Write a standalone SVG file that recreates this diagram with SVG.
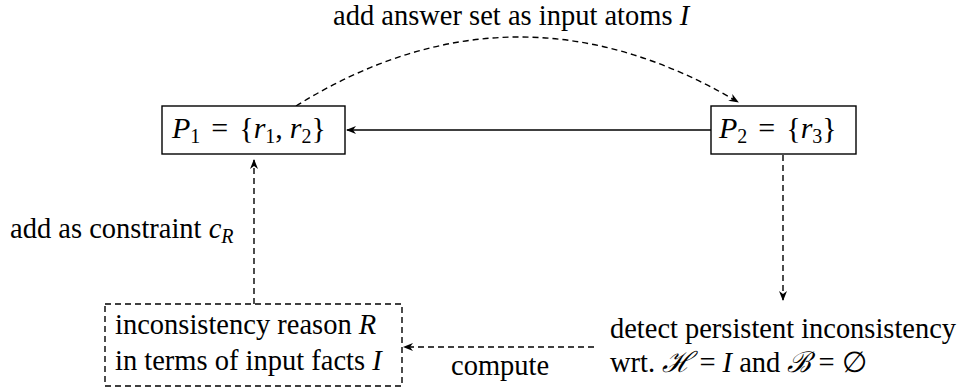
<svg xmlns="http://www.w3.org/2000/svg" width="961" height="389" viewBox="0 0 961 389">
<style>
text{font-family:"Liberation Serif","Times New Roman",serif;font-size:28.5px;fill:#000}
.m{font-size:30px}
.i{font-style:italic}
.s{font-size:20px}
.box{fill:#fff;stroke:#000;stroke-width:1.4}
.dbox{fill:none;stroke:#000;stroke-width:1.4;stroke-dasharray:6 4}
.c{fill:none;stroke:#000;stroke-width:1.4}
.d{stroke-dasharray:6 4}
</style>
<defs>
<marker id="ah" viewBox="0 0 10 10" refX="9" refY="5" markerWidth="10" markerHeight="10" markerUnits="userSpaceOnUse" orient="auto">
<path d="M0,1 L10,5 L0,9 L3,5 Z" fill="#000"/>
</marker>
</defs>
<g id="connectors">
<path class="c" d="M711,130 L347,130" marker-end="url(#ah)"/>
<path class="c d" d="M296,106 Q515,-30 738,102" marker-end="url(#ah)"/>
<path class="c d" d="M783,155 L783,300" marker-end="url(#ah)"/>
<path class="c d" d="M594,347 L404,347" marker-end="url(#ah)"/>
<path class="c d" d="M254,304 L254,160" marker-end="url(#ah)"/>
<text x="333" y="25">add answer set as input atoms <tspan class="i">I</tspan></text>
<text x="10" y="238">add as constraint <tspan class="i">c</tspan><tspan class="i s" dy="5">R</tspan></text>
<text x="451" y="375">compute</text>
</g>
<g id="P1">
<rect class="box" x="162" y="106" width="183" height="48"/>
<text class="m" x="172" y="138"><tspan class="i">P</tspan><tspan class="s" dy="5">1</tspan><tspan dy="-5" dx="11">=</tspan><tspan dx="11">{</tspan><tspan class="i">r</tspan><tspan class="s" dy="5">1</tspan><tspan dy="-5">,</tspan><tspan class="i" dx="7">r</tspan><tspan class="s" dy="5">2</tspan><tspan dy="-5">}</tspan></text>
</g>
<g id="P2">
<rect class="box" x="711" y="106" width="145" height="48"/>
<text class="m" x="719" y="138"><tspan class="i">P</tspan><tspan class="s" dy="5">2</tspan><tspan dy="-5" dx="11">=</tspan><tspan dx="11">{</tspan><tspan class="i">r</tspan><tspan class="s" dy="5">3</tspan><tspan dy="-5">}</tspan></text>
</g>
<g id="reason">
<rect class="dbox" x="105" y="304" width="297" height="82"/>
<text x="115" y="334">inconsistency reason <tspan class="i">R</tspan></text>
<text x="115" y="370">in terms of input facts <tspan class="i">I</tspan></text>
</g>
<g id="detect">
<text x="610" y="338" textLength="346" lengthAdjust="spacingAndGlyphs">detect persistent inconsistency</text>
<text x="610" y="372">wrt. <tspan class="i" font-family="DejaVu Serif, serif">ℋ</tspan> = <tspan class="i">I</tspan> and <tspan class="i" font-family="DejaVu Serif, serif">ℬ</tspan> = ∅</text>
</g>
</svg>
